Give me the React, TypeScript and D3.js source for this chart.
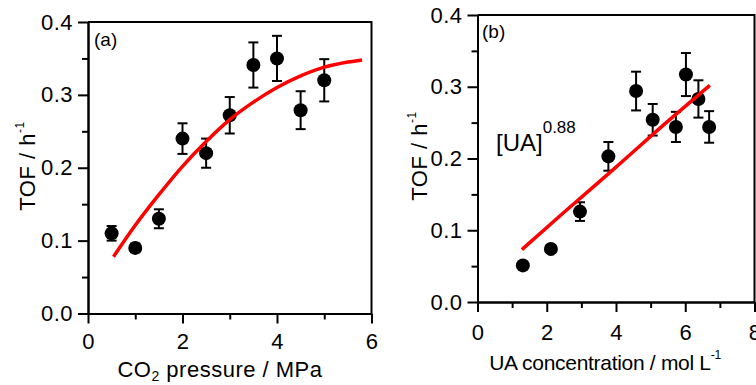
import React, { useEffect, useRef } from 'react';
import { select, scaleLinear, axisLeft, axisBottom, line, curveMonotoneX, range } from 'd3';

// panel (a): CO2 pressure
const pressure = [0.5, 1, 1.5, 2, 2.5, 3, 3.5, 4, 4.5, 5];
const pressureTof = [0.11, 0.09, 0.13, 0.24, 0.22, 0.272, 0.341, 0.35, 0.279, 0.32];
const pressureErr = [0.01, 0.006, 0.013, 0.021, 0.02, 0.025, 0.031, 0.031, 0.026, 0.029];
const pressureFitX = [0.54, 1, 1.5, 2, 2.5, 3, 3.5, 4, 4.5, 5, 5.5, 5.8];
const pressureFitY = [0.078, 0.121, 0.163, 0.202, 0.236, 0.266, 0.29, 0.31, 0.326, 0.338, 0.345, 0.348];

// panel (b): UA concentration
const concentration = [1.31, 2.12, 2.96, 3.78, 4.58, 5.06, 5.73, 6.02, 6.38, 6.69];
const concentrationTof = [0.051, 0.074, 0.126, 0.203, 0.294, 0.254, 0.244, 0.317, 0.283, 0.244];
const concentrationErr = [0.004, 0.004, 0.013, 0.02, 0.027, 0.022, 0.021, 0.03, 0.026, 0.022];
const concentrationFitX = [1.28, 2.5, 4, 5.5, 6.71];
const concentrationFitY = [0.073, 0.125, 0.188, 0.252, 0.302];

const yMajor = [0, 0.1, 0.2, 0.3, 0.4];
const yMinor = [0.05, 0.15, 0.25, 0.35];

const FONT = '"Liberation Sans", Arial, sans-serif';

const drawPanel = (svg, p) => {
    const g = svg.append('g');
    const x = scaleLinear().domain(p.xDomain).range([p.left, p.right]);
    const y = scaleLinear().domain([0, 0.4]).range([p.bottom, p.top]);

    const xMajor = range(0, p.xDomain[1] + 1, 2);
    const xMinor = range(1, p.xDomain[1], 2);

    // minor ticks first, then major ticks with labels
    g.append('g').attr('transform', `translate(0,${p.bottom})`)
        .call(axisBottom(x).tickValues(xMinor).tickSize(6).tickSizeOuter(0).tickFormat(() => ''));
    g.append('g').attr('transform', `translate(0,${p.bottom})`)
        .call(axisBottom(x).tickValues(xMajor).tickSize(10).tickSizeOuter(0).tickPadding(p.xPad).tickFormat(d => String(d)));
    g.append('g').attr('transform', `translate(${p.left},0)`)
        .call(axisLeft(y).tickValues(yMinor).tickSize(6).tickSizeOuter(0).tickFormat(() => ''));
    g.append('g').attr('transform', `translate(${p.left},0)`)
        .call(axisLeft(y).tickValues(yMajor).tickSize(10).tickSizeOuter(0).tickPadding(5).tickFormat(d => d.toFixed(1)));

    g.selectAll('.domain').attr('stroke-width', 2);
    g.selectAll('.tick line').attr('stroke-width', 2);
    g.selectAll('.tick text')
        .attr('font-size', 22)
        .attr('letter-spacing', 0.5)
        .attr('font-family', FONT)
        .attr('fill', '#000');

    // top and right frame
    g.append('path')
        .attr('d', `M${p.left},${p.top}H${p.right}V${p.bottom}`)
        .attr('fill', 'none').attr('stroke', '#000').attr('stroke-width', 2);

    // error bars
    const eb = g.append('g').attr('stroke', '#000').attr('stroke-width', 2);
    p.xs.forEach((xv, i) => {
        const cx = x(xv);
        const y1 = y(p.ys[i] + p.errs[i]);
        const y2 = y(p.ys[i] - p.errs[i]);
        eb.append('line').attr('x1', cx).attr('x2', cx).attr('y1', y1).attr('y2', y2);
        eb.append('line').attr('x1', cx - 5).attr('x2', cx + 5).attr('y1', y1).attr('y2', y1);
        eb.append('line').attr('x1', cx - 5).attr('x2', cx + 5).attr('y1', y2).attr('y2', y2);
    });

    g.selectAll('.dot')
        .data(p.xs)
        .join('circle')
        .attr('class', 'dot')
        .attr('cx', d => x(d))
        .attr('cy', (d, i) => y(p.ys[i]))
        .attr('r', 7)
        .attr('fill', '#000');

    const fit = line().x(d => x(d[0])).y(d => y(d[1])).curve(curveMonotoneX);
    g.append('path')
        .datum(p.fitX.map((v, i) => [v, p.fitY[i]]))
        .attr('d', fit)
        .attr('fill', 'none')
        .attr('stroke', '#ff0000')
        .attr('stroke-width', 3.5);

    return g;
};

const App = () => {
    const svgRef = useRef();

    useEffect(() => {
        const svg = select(svgRef.current);
        svg.selectAll('*').remove();

        const a = drawPanel(svg, {
            left: 88, right: 371.5, top: 22, bottom: 313.5, xDomain: [0, 6], xPad: 10,
            xs: pressure, ys: pressureTof, errs: pressureErr, fitX: pressureFitX, fitY: pressureFitY,
        });
        const b = drawPanel(svg, {
            left: 477.5, right: 754.5, top: 15, bottom: 302, xDomain: [0, 8], xPad: 12,
            xs: concentration, ys: concentrationTof, errs: concentrationErr, fitX: concentrationFitX, fitY: concentrationFitY,
        });

        const txt = (g) => g.append('text').attr('font-family', FONT).attr('fill', '#000');

        // panel (a) labels
        txt(a).attr('x', 94).attr('y', 46).attr('font-size', 19).text('(a)');
        const ax = txt(a).attr('x', 220).attr('y', 377).attr('font-size', 22)
            .attr('letter-spacing', 0.5).attr('text-anchor', 'middle');
        ax.append('tspan').text('CO');
        ax.append('tspan').attr('font-size', 14).attr('dy', 4).text('2');
        ax.append('tspan').attr('dy', -4).text(' pressure / MPa');
        const ay = txt(a).attr('transform', 'translate(35,166) rotate(-90)').attr('font-size', 22)
            .attr('letter-spacing', 0.5).attr('text-anchor', 'middle');
        ay.append('tspan').text('TOF / h');
        ay.append('tspan').attr('font-size', 12).attr('dy', -11).text('-1');

        // panel (b) labels
        txt(b).attr('x', 482).attr('y', 38).attr('font-size', 19).text('(b)');
        const bx = txt(b).attr('x', 605).attr('y', 370).attr('font-size', 21)
            .attr('letter-spacing', -0.3).attr('text-anchor', 'middle');
        bx.append('tspan').text('UA concentration / mol L');
        bx.append('tspan').attr('font-size', 12).attr('dy', -11).text('-1');
        const by = txt(b).attr('transform', 'translate(427,156) rotate(-90)').attr('font-size', 22)
            .attr('letter-spacing', 0.5).attr('text-anchor', 'middle');
        by.append('tspan').text('TOF / h');
        by.append('tspan').attr('font-size', 12).attr('dy', -11).text('-1');

        const ua = txt(b).attr('x', 496).attr('y', 151).attr('font-size', 24);
        ua.append('tspan').text('[UA]');
        ua.append('tspan').attr('font-size', 17).attr('dy', -18).text('0.88');
    }, []);

    return (
        <svg ref={svgRef} width={756} height={385}
            style={{ position: 'absolute', left: 0, top: 0, background: '#fff' }}>
        </svg>
    );
};

export default App;
